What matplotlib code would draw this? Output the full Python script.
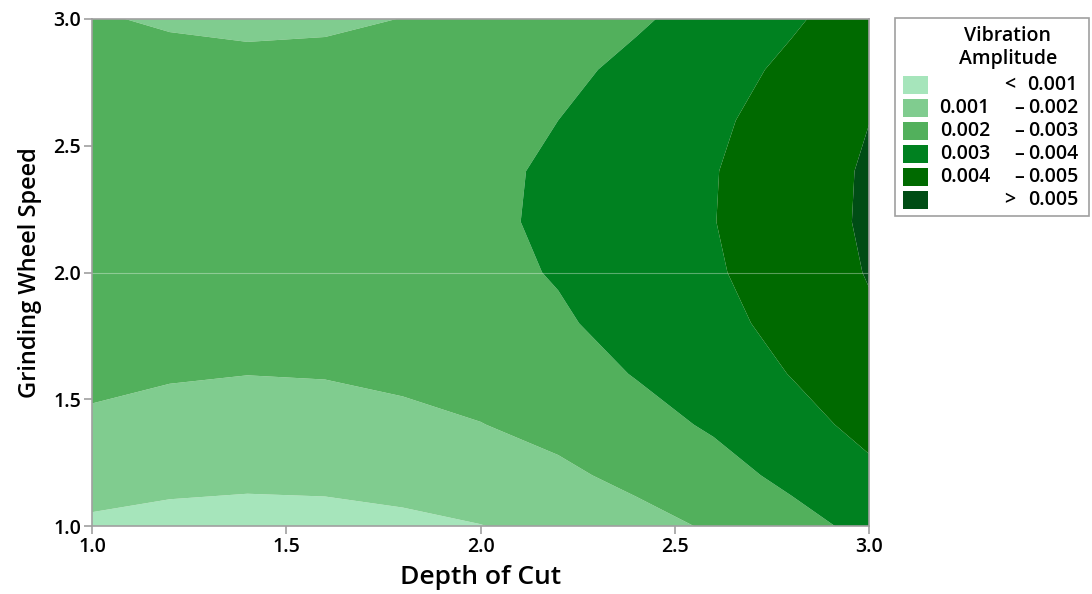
import numpy as np
import matplotlib
matplotlib.use("Agg")
import matplotlib.pyplot as plt
from matplotlib.patches import Rectangle

plt.rcParams['font.family'] = ['Open Sans', 'DejaVu Sans']

# response grid: depth of cut (x) by grinding wheel speed (y)
depth_of_cut = [1.0, 1.2, 1.4, 1.6, 1.8, 2.0, 2.2, 2.4, 2.6, 2.8, 3.0]
wheel_speed = [1.0, 1.2, 1.4, 1.6, 1.8, 2.0, 2.2, 2.4, 2.6, 2.8, 3.0]

# vibration amplitude (x 0.001), one row per wheel speed
amplitude_milli = [
    [0.85, 0.71, 0.65, 0.68, 0.80, 0.98, 1.27, 1.68, 2.11, 2.67, 3.26],
    [1.40, 1.26, 1.20, 1.23, 1.35, 1.53, 1.82, 2.23, 2.66, 3.22, 3.81],
    [1.85, 1.71, 1.65, 1.68, 1.80, 1.98, 2.27, 2.68, 3.11, 3.67, 4.26],
    [2.21, 2.07, 2.01, 2.04, 2.16, 2.34, 2.63, 3.04, 3.47, 4.03, 4.62],
    [2.47, 2.33, 2.27, 2.30, 2.42, 2.60, 2.89, 3.30, 3.73, 4.29, 4.88],
    [2.64, 2.50, 2.44, 2.47, 2.59, 2.77, 3.06, 3.47, 3.90, 4.46, 5.05],
    [2.72, 2.58, 2.52, 2.55, 2.67, 2.85, 3.14, 3.55, 3.98, 4.54, 5.13],
    [2.70, 2.56, 2.50, 2.53, 2.65, 2.83, 3.12, 3.53, 3.96, 4.52, 5.11],
    [2.58, 2.44, 2.38, 2.41, 2.53, 2.71, 3.00, 3.41, 3.84, 4.40, 4.99],
    [2.37, 2.23, 2.17, 2.20, 2.32, 2.50, 2.79, 3.20, 3.63, 4.19, 4.78],
    [2.06, 1.92, 1.86, 1.89, 2.01, 2.19, 2.48, 2.89, 3.32, 3.88, 4.47],
]

levels = [0.0, 0.001, 0.002, 0.003, 0.004, 0.005, 0.01]
band_labels = [("", "<", "0.001"),
               ("0.001", "\u2013", "0.002"),
               ("0.002", "\u2013", "0.003"),
               ("0.003", "\u2013", "0.004"),
               ("0.004", "\u2013", "0.005"),
               ("", ">", "0.005")]
band_colors = ['#a6e5bb', '#80cc8f', '#52b05c', '#008120', '#006a00', '#004d15']

W, H = 1092, 594
fig = plt.figure(figsize=(W / 100, H / 100), dpi=100)
ax = fig.add_axes([92 / W, 1 - 526 / H, 777 / W, 507 / H])

X, Y = np.meshgrid(depth_of_cut, wheel_speed)
Z = np.array(amplitude_milli) * 0.001
ax.contourf(X, Y, Z, levels=levels, colors=band_colors, antialiased=True)
ax.axhline(2.0, color='white', lw=0.8, alpha=0.35)

ticks = [1.0, 1.5, 2.0, 2.5, 3.0]
ax.set_xlim(1.0, 3.0)
ax.set_ylim(1.0, 3.0)
ax.set_xticks(ticks)
ax.set_yticks(ticks)
ax.set_xticklabels(['%.1f' % t for t in ticks])
ax.set_yticklabels(['%.1f' % t for t in ticks])
for s in ax.spines.values():
    s.set_color('#a0a0a0')
    s.set_linewidth(1.2)
ax.tick_params(direction='out', length=6, width=1.2, color='#a0a0a0',
               labelsize=14, pad=2, labelcolor='black')
for lab in ax.get_xticklabels() + ax.get_yticklabels():
    lab.set_fontweight('semibold')

ax.set_xlabel('Depth of Cut', fontsize=19, fontweight='semibold', labelpad=6)
ax.set_ylabel('Grinding Wheel Speed', fontsize=17, fontweight='semibold', labelpad=8)

# legend box drawn in figure pixels
def px(x, y):
    return x / W, 1 - y / H

box_x0, box_y0, box_x1, box_y1 = 895, 18, 1089, 216
fig.patches.append(Rectangle(px(box_x0, box_y1), (box_x1 - box_x0) / W,
                             (box_y1 - box_y0) / H, transform=fig.transFigure,
                             facecolor='white', edgecolor='#a0a0a0', lw=1.2))
fig.text(*px(1008, 36), 'Vibration', ha='center', va='center',
         fontsize=14, fontweight='semibold')
fig.text(*px(1008, 59), 'Amplitude', ha='center', va='center',
         fontsize=14, fontweight='semibold')
for i, (lo, sep, hi) in enumerate(band_labels):
    yc = 85 + 23 * i
    fig.patches.append(Rectangle(px(903, yc + 9), 25 / W, 18 / H,
                                 transform=fig.transFigure,
                                 facecolor=band_colors[i], edgecolor='none'))
    if lo:
        fig.text(*px(990, yc), lo, ha='right', va='center', fontsize=14,
                 fontweight='semibold')
        sep_x = 1019
    else:
        sep_x = 1010
    fig.text(*px(sep_x, yc), sep, ha='center', va='center', fontsize=14,
             fontweight='semibold')
    fig.text(*px(1078, yc), hi, ha='right', va='center', fontsize=14,
             fontweight='semibold')

fig.savefig('out.png', dpi=100)
